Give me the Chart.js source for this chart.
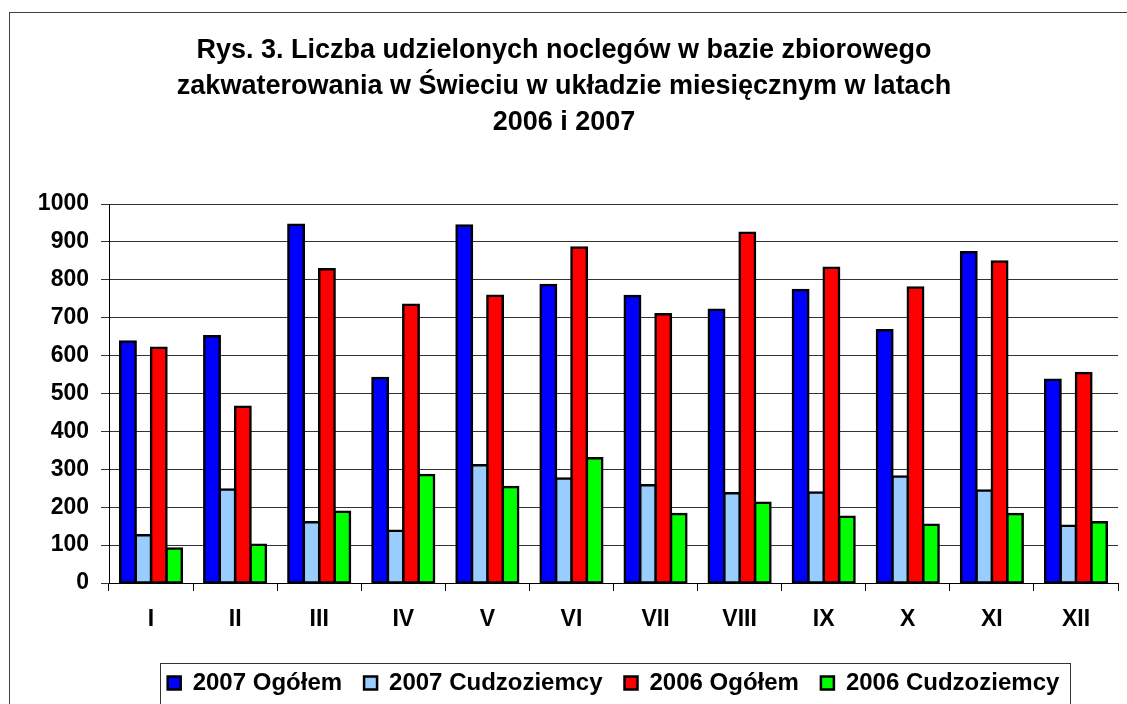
<!DOCTYPE html>
<html>
<head>
<meta charset="utf-8">
<title>Rys. 3</title>
<script src="https://cdn.jsdelivr.net/npm/chart.js@4.4.1/dist/chart.umd.min.js"></script>
<style>
  html, body { margin: 0; padding: 0; background: #fff; overflow: hidden; }
  #frame {
    position: absolute; left: 9px; top: 12px;
    width: 1200px; height: 800px;
    border: 1px solid #404040;
  }
  #box { position: relative; width: 1124px; height: 692px; }
</style>
</head>
<body>
<div id="frame"><div id="box"><canvas id="chart"></canvas></div></div>
<script>
// months (Roman numerals)
var months = ['I', 'II', 'III', 'IV', 'V', 'VI', 'VII', 'VIII', 'IX', 'X', 'XI', 'XII'];

// values
var ogolem2007 = [637, 651, 945, 541, 943, 786, 757, 721, 773, 667, 873, 536];
var cudz2007   = [126, 247, 160, 138, 311, 276, 258, 237, 239, 281, 244, 151];
var ogolem2006 = [621, 465, 828, 734, 758, 885, 709, 924, 832, 780, 848, 554];
var cudz2006   = [ 91, 101, 188, 285, 253, 329, 182, 212, 175, 154, 182, 160];

var seriesNames = ['2007 Ogółem', '2007 Cudzoziemcy', '2006 Ogółem', '2006 Cudzoziemcy'];
var seriesColors = ['#0000ff', '#99ccff', '#ff0000', '#00ff00'];

var titleLines = [
  'Rys. 3. Liczba udzielonych noclegów w bazie zbiorowego',
  'zakwaterowania w Świeciu w układzie miesięcznym w latach',
  '2006 i 2007'
];

var FONT = "'Liberation Sans', Arial, Helvetica, sans-serif";

function makeSet(i, values) {
  return {
    label: seriesNames[i],
    data: values,
    backgroundColor: seriesColors[i],
    borderColor: '#000',
    borderWidth: 2.5,
    borderSkipped: false,
    inflateAmount: 1.25,
    categoryPercentage: 0.733,
    barPercentage: 1
  };
}

// frame around the legend, like the Excel legend box
var legendFrame = {
  id: 'legendFrame',
  afterDraw: function (chart) {
    var boxes = chart.legend.legendHitBoxes;
    if (!boxes || !boxes.length) return;
    var first = boxes[0], last = boxes[boxes.length - 1];
    var mid = first.top + first.height / 2;
    var ctx = chart.ctx;
    ctx.save();
    ctx.strokeStyle = '#333';
    ctx.lineWidth = 1;
    ctx.strokeRect(Math.round(first.left - 8) + 0.5, Math.round(mid - 20) + 0.5,
                   Math.round(last.left + last.width - first.left + 18), 41);
    ctx.restore();
  }
};

new Chart(document.getElementById('chart'), {
  type: 'bar',
  data: {
    labels: months,
    datasets: [
      makeSet(0, ogolem2007),
      makeSet(1, cudz2007),
      makeSet(2, ogolem2006),
      makeSet(3, cudz2006)
    ]
  },
  options: {
    responsive: true,
    maintainAspectRatio: false,
    animation: false,
    layout: { padding: { left: 0, right: 16, top: 0, bottom: 0 } },
    plugins: {
      title: {
        display: true,
        text: titleLines,
        color: '#000',
        font: { family: FONT, size: 27, weight: 'bold', lineHeight: '36px' },
        padding: { top: 20, bottom: 63 }
      },
      legend: {
        position: 'bottom',
        fullSize: false,
        labels: {
          color: '#000',
          font: { family: FONT, size: 24, weight: 'bold' },
          boxWidth: 13,
          boxHeight: 13,
          padding: 22
        }
      },
      tooltip: { enabled: false }
    },
    scales: {
      x: {
        grid: {
          display: true,
          drawOnChartArea: false,
          drawTicks: true,
          tickLength: 8,
          color: '#000'
        },
        border: { display: true, color: '#000', width: 1 },
        ticks: {
          color: '#000',
          font: { family: FONT, size: 23, weight: 'bold' },
          padding: 15,
          autoSkip: false,
          maxRotation: 0
        },
        afterFit: function (scale) { scale.height = 66; }
      },
      y: {
        min: 0,
        max: 1000,
        grid: {
          color: '#333',
          lineWidth: 1,
          drawTicks: true,
          tickLength: 8
        },
        border: { display: true, color: '#000', width: 1 },
        ticks: {
          stepSize: 100,
          color: '#000',
          font: { family: FONT, size: 23, weight: 'bold' },
          padding: 12,
          callback: function (v) { return String(v); }
        },
        afterFit: function (scale) { scale.width = 99; }
      }
    }
  },
  plugins: [legendFrame]
});
</script>
</body>
</html>
